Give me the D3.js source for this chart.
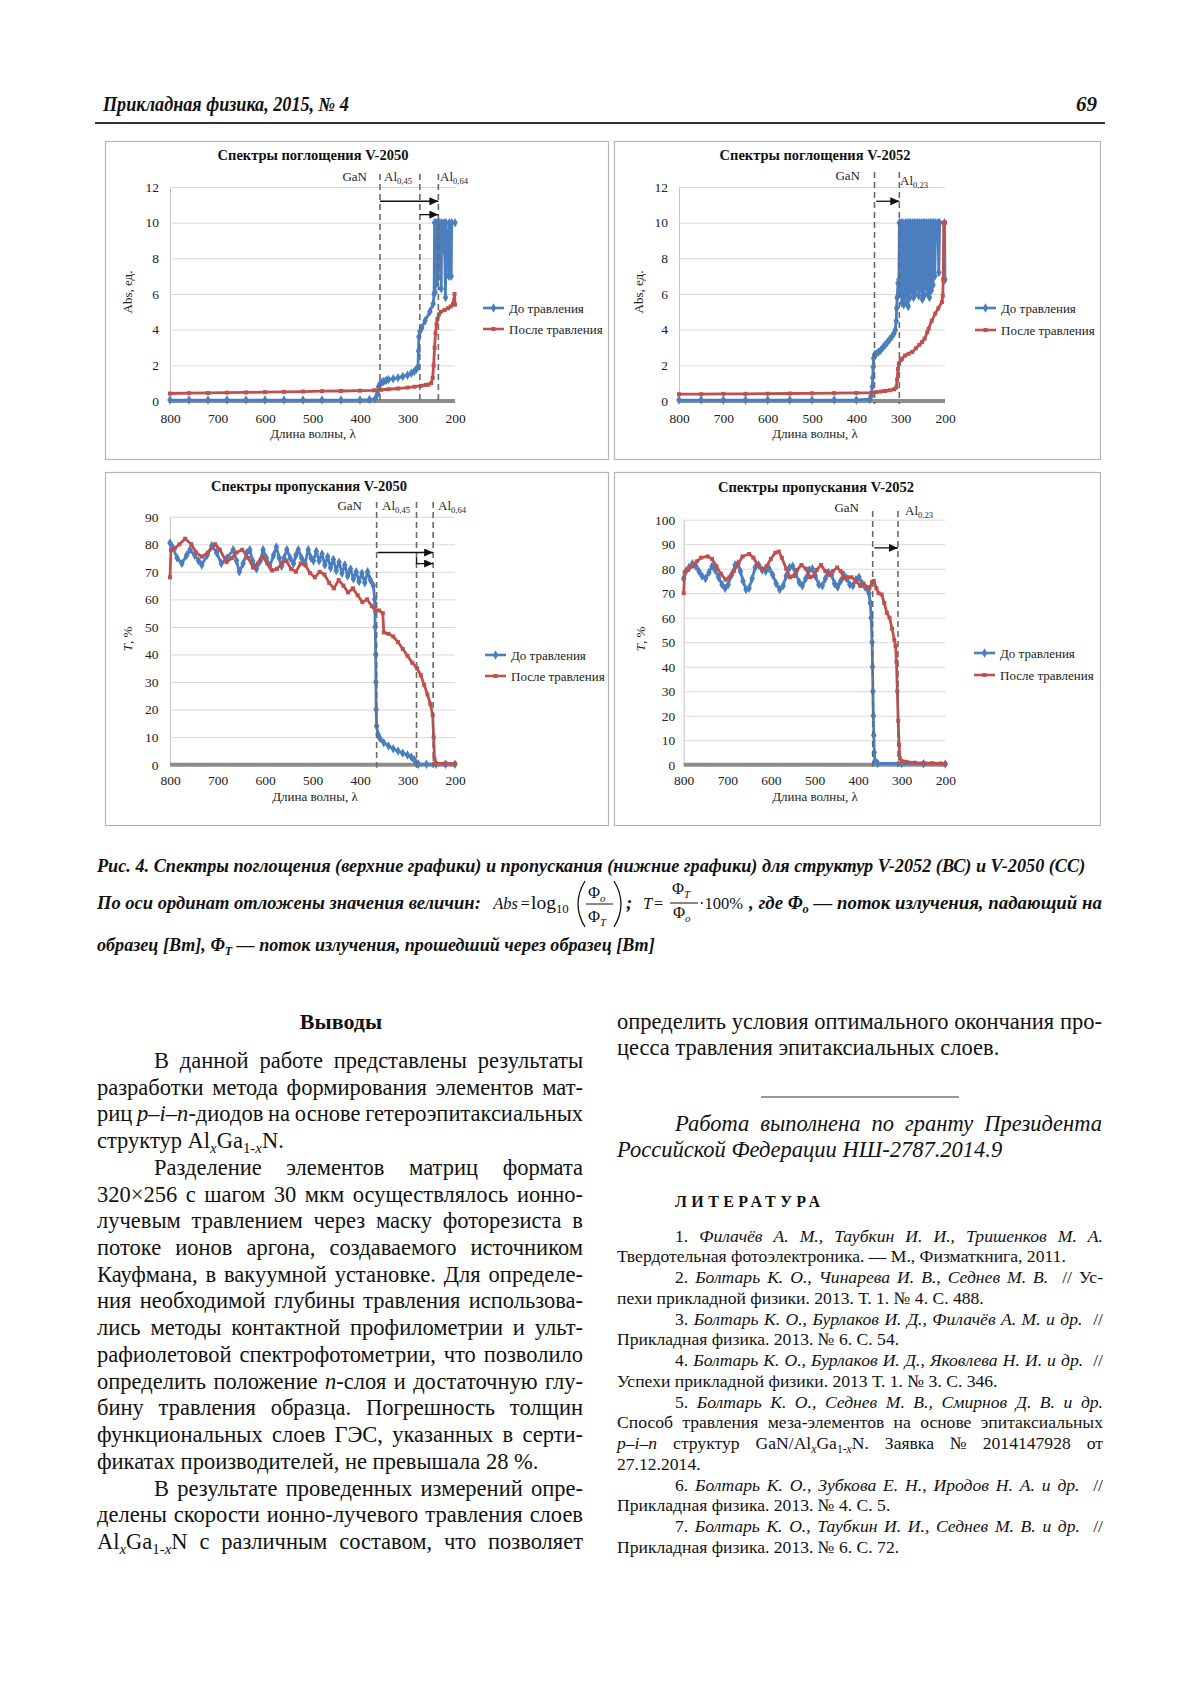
<!DOCTYPE html>
<html><head><meta charset="utf-8">
<script src="https://cdn.jsdelivr.net/npm/d3@7"></script>
<style>
body{margin:0;background:#fff;}
svg text{white-space:pre;}
</style></head>
<body>
<svg id="fig" width="1200" height="1698"></svg>
<script>
// ---------------- DATA ----------------
const wavelengthTicks = [800, 700, 600, 500, 400, 300, 200];
const absTicks = [0, 2, 4, 6, 8, 10, 12];
const tr2050Ticks = [0, 10, 20, 30, 40, 50, 60, 70, 80, 90];
const tr2052Ticks = [0, 10, 20, 30, 40, 50, 60, 70, 80, 90, 100];
const seriesNames = ["До травления", "После травления"];

// Absorption V-2050 [wavelength, Abs]
const abs2050Before = [[800,0.05],[760,0.05],[720,0.05],[680,0.05],[640,0.05],[600,0.05],[560,0.05],[520,0.05],[480,0.05],[440,0.05],[400,0.06],[380,0.08],[368,0.12],[363,0.4],[361,0.8],[358,0.95],[354,1.05],[350,1.1],[345,1.15],[340,1.2],[330,1.25],[320,1.3],[310,1.38],[300,1.45],[292,1.55],[286,1.65],[282,1.75],[278,1.9],[277,2.8],[276,3.6],[274,3.9],[270,4.1],[263,4.5],[253,5.0],[246,5.45],[244,6.0],[243,10],[242,6.1],[241,10],[239,6.6],[238,10],[236,6.9],[235,10],[233,7.5],[232,10],[229,6.3],[228,10],[224,8.5],[223,10],[220,5.8],[219,10],[213,7.0],[212,10],[208,7.0],[207,10],[200,10]];
const abs2050After = [[800,0.42],[760,0.44],[720,0.45],[680,0.47],[640,0.48],[600,0.5],[560,0.51],[520,0.53],[480,0.55],[440,0.56],[400,0.58],[370,0.6],[355,0.63],[340,0.66],[320,0.7],[300,0.75],[285,0.8],[272,0.85],[262,0.9],[256,0.92],[250,1.0],[247,1.3],[245,2.0],[243,3.0],[241,3.8],[239,4.3],[237,4.6],[234,4.85],[230,5.0],[222,5.1],[215,5.2],[209,5.3],[204,5.45],[201,6.0],[200,5.4]];

// Absorption V-2052
const abs2052Before = [[800,0.05],[750,0.05],[700,0.05],[650,0.05],[600,0.05],[550,0.05],[500,0.05],[450,0.05],[400,0.06],[370,0.1],[366,0.3],[364,0.8],[363,1.3],[362,1.9],[361,2.4],[359,2.6],[355,2.65],[350,2.75],[345,2.85],[340,3.0],[335,3.15],[330,3.3],[325,3.45],[320,3.6],[315,3.8],[312,4.0],[310,4.5],[309,5.2],[308,5.8],[306,6.6],[304,6.8],[303,10],[301,6.0],[299,10],[297,5.5],[295,10],[293,5.4],[291,5.8],[289,10],[287,5.6],[285,10],[283,5.3],[281,10],[279,5.8],[277,10],[275,6.2],[273,10],[271,5.8],[269,10],[267,6.0],[265,10],[263,6.4],[261,10],[259,5.9],[257,10],[255,6.3],[253,10],[251,5.7],[249,10],[247,5.9],[245,10],[243,6.4],[241,10],[239,6.0],[237,10],[235,5.8],[233,10],[231,6.2],[229,10],[227,6.5],[225,10],[223,7.0],[221,10],[216,10],[214,7.2],[212,10],[201,10],[200,6.8]];
const abs2052After = [[800,0.38],[750,0.38],[700,0.4],[650,0.4],[600,0.41],[550,0.42],[500,0.43],[450,0.44],[400,0.45],[366,0.46],[355,0.5],[345,0.53],[335,0.56],[325,0.6],[315,0.65],[310,0.75],[308,1.2],[306,1.8],[304,2.1],[300,2.3],[297,2.37],[290,2.55],[282,2.65],[274,2.75],[266,2.95],[258,3.15],[252,3.3],[246,3.5],[240,3.85],[237,4.05],[230,4.5],[222,4.9],[215,5.2],[207,5.55],[205,5.9],[204,6.8],[203,10],[200,10]];

// Transmission V-2050 [wavelength, T%]
const tr2050Before = [[800,80.5],[795,79],[785,75],[775,73],[765,76],[758,78],[748,76],[740,74],[733,72.5],[722,76],[712,79.5],[702,77],[692,73],[680,75],[667,78],[660,74],[654,70],[646,73],[638,77],[632,78],[626,74],[618,71],[610,74],[604,78],[597,75],[590,72],[582,76],[576,79],[570,75],[565,72],[560,75],[554,78],[547,75],[540,73],[535,76],[530,78],[523,75],[516,73],[509,78],[503,75],[498,74],[492,77.5],[486,74],[480,76.5],[474,72.5],[468,75.5],[462,71.5],[456,74.5],[450,70.5],[444,73.5],[438,69.5],[432,72.5],[426,68.5],[420,71],[414,67.5],[408,70],[402,66.5],[396,69.5],[390,66],[384,70],[378,67],[372,65],[369,60],[368,50],[367,40],[366.5,30],[366,20],[365,14],[362,11],[358,9.5],[350,8],[340,6.8],[330,5.8],[320,5],[310,4.2],[300,3.5],[292,2.8],[286,1.8],[281,0.5],[277,0.2],[260,0.2],[240,0.2],[220,0.2],[200,0.2]];
const tr2050After = [[800,68],[798,78],[790,78.5],[780,80],[768,82],[755,80],[745,77],[733,75.5],[720,77],[705,80],[695,78],[681,73.5],[670,75],[660,77],[648,78],[635,75],[625,71.5],[615,73],[605,75.5],[595,73],[585,70.5],[575,71],[565,73],[555,74],[545,71],[535,70],[525,73],[515,72.5],[505,69.5],[495,68],[485,70],[475,69],[465,66],[455,64],[445,67],[435,65],[425,62.5],[415,64],[405,61.5],[395,59],[385,60],[375,57.5],[368,56],[360,56],[352,55],[350,48],[340,47.5],[330,46.5],[320,44.5],[310,42],[300,39.5],[290,37],[280,35],[272,32.5],[265,29],[258,25.5],[252,22],[247,18],[245,10],[243,2],[240,0.5],[220,0.5],[200,0.3]];

// Transmission V-2052
const tr2052Before = [[800,76],[795,79],[788,80.5],[780,82],[772,81],[765,79],[758,77],[750,76],[742,78.5],[735,81],[728,79.5],[720,76.5],[712,73.5],[705,72],[698,73.5],[690,77.5],[682,81.5],[676,82],[670,79],[664,75],[657,71.5],[650,72],[643,76],[636,80.5],[628,81.5],[620,79.5],[612,79],[604,80],[596,77.5],[588,74],[580,71.5],[572,73],[565,77],[557,80.5],[550,81],[543,78],[535,74.5],[528,73],[520,76],[512,79.5],[505,80],[498,77],[490,73.5],[482,73],[475,76],[468,78.5],[461,77.5],[454,74],[447,72.5],[440,75],[433,77.5],[426,76],[419,73.5],[412,73],[405,75.5],[398,76.5],[391,74],[384,72.5],[378,71.5],[375,70],[372,66],[370,60],[368,50],[367,40],[366,30],[365,20],[364,12],[363,5],[361,1.5],[355,0.5],[300,0.5],[250,0.4],[200,0.3]];
const tr2052After = [[800,70],[798,78.5],[790,79.5],[780,81],[770,83],[760,84.5],[745,85],[735,84],[725,81],[715,78],[704,75.5],[695,76.5],[685,79],[675,82],[665,85],[650,86],[640,84.5],[630,81.5],[620,79.5],[610,81],[600,84],[590,86.5],[582,87],[575,84.5],[565,80],[556,76.5],[548,77],[540,79.5],[530,81.5],[520,80],[510,76.5],[502,77],[495,79.5],[485,81.5],[475,79],[467,77.5],[458,79],[448,80.5],[440,79],[432,76],[424,76.5],[415,76.5],[405,75],[395,73],[388,74],[380,72.5],[374,72],[368,74.5],[364,75],[358,72],[353,70],[346,69.5],[340,66],[334,62],[328,60],[322,55.5],[317,51],[314,48.5],[312,42],[310,30],[308,18],[306,8],[304,2.5],[300,1.5],[290,1.2],[270,0.8],[250,0.7],[230,0.6],[210,0.5],[200,0.3]];

// ---------------- DRAWING ----------------
const FONT = "'Liberation Serif', 'Times New Roman', serif";
const svg = d3.select("#fig");
svg.append("rect").attr("width", 1200).attr("height", 1698).attr("fill", "#fff");
const colors = ["#4a7ebf", "#c0504d"];
const symbols = [d3.symbol().type(d3.symbolDiamond).size(26)(), d3.symbol().type(d3.symbolSquare).size(16)()];

const defs = svg.append("defs");
defs.append("marker").attr("id", "arr").attr("markerUnits", "userSpaceOnUse")
  .attr("markerWidth", 9).attr("markerHeight", 8).attr("refX", 9).attr("refY", 4).attr("orient", "auto")
  .append("path").attr("d", "M0,0 L9,4 L0,8 Z").attr("fill", "#111");

function rich(parent, x, y, markup, o) {
  o = o || {};
  const size = o.size || 16;
  const t = parent.append("text").attr("x", x).attr("y", y)
    .attr("font-family", FONT).attr("font-size", size).attr("fill", o.fill || "#111");
  if (o.anchor) t.attr("text-anchor", o.anchor);
  if (o.transform) t.attr("transform", o.transform);
  if (o.ls) t.attr("letter-spacing", o.ls);
  const baseIt = o.style === "italic", baseBd = o.weight === "bold";
  let it = baseIt, bd = baseBd, sub = 0, cur = 0;
  markup.split(/(<\/?(?:i|b|sub|n)>)/).forEach(p => {
    if (!p) return;
    if (p === "<i>") { it = true; return; }
    if (p === "</i>") { it = baseIt; return; }
    if (p === "<n>") { it = false; return; }
    if (p === "</n>") { it = baseIt; return; }
    if (p === "<b>") { bd = true; return; }
    if (p === "</b>") { bd = baseBd; return; }
    if (p === "<sub>") { sub++; return; }
    if (p === "</sub>") { sub--; return; }
    const shift = sub ? size * 0.22 : 0;
    const ts = t.append("tspan").text(p)
      .attr("font-style", it ? "italic" : "normal")
      .attr("font-weight", bd ? "bold" : "normal");
    if (sub) ts.attr("font-size", size * 0.66);
    if (shift !== cur) { ts.attr("dy", shift - cur); cur = shift; }
  });
  if (o.width) {
    const nat = t.node().getComputedTextLength();
    if (o.fit === "scale") {
      t.attr("x", 0).attr("y", 0)
        .attr("transform", `translate(${x},${y}) scale(${o.width / nat},1)`);
    } else if (o.fit) {
      t.attr("textLength", o.width).attr("lengthAdjust", o.fit);
    } else {
      const n = (markup.replace(/<[^>]+>/g, "").match(/ /g) || []).length;
      if (n) t.style("word-spacing", ((o.width - nat) / n) + "px");
    }
  }
  return t;
}

const charts = [
  { frame: [105, 141, 503, 318], x0: 170, x1: 455, yTop: 187, yBot: 401, yMax: 12, ticks: absTicks, pad: 11, xpad: 12,
    title: "Спектры поглощения V-2050", tx: 313, ty: 160, yLabel: "Abs, ед.", ylx: 132, yly: 292, xlx: 313, xly: 438,
    series: [abs2050Before, abs2050After], dashed: [358, 274, 235], dashTop: 174,
    labels: [["GaN", 367, 181, "end"], ["Al<sub>0,45</sub>", 384, 181], ["Al<sub>0,64</sub>", 440, 181]],
    arrows: [[[358, 11.2], [235, 11.2]], [[274, 10.45], [235, 10.45]]], legend: [483, 308, 21] },
  { frame: [614, 141, 486, 318], x0: 679, x1: 945, yTop: 187, yBot: 401, yMax: 12, ticks: absTicks, pad: 11, xpad: 12,
    title: "Спектры поглощения V-2052", tx: 815, ty: 160, yLabel: "Abs, ед.", ylx: 643, yly: 292, xlx: 815, xly: 438,
    series: [abs2052Before, abs2052After], dashed: [359, 303], dashTop: 172,
    labels: [["GaN", 860, 180, "end"], ["Al<sub>0,23</sub>", 900, 185]],
    arrows: [[[355, 11.2], [303, 11.2]]], legend: [975, 308, 22] },
  { frame: [105, 472, 503, 353], x0: 170, x1: 455, yTop: 516.7, yBot: 764.7, yMax: 90, ticks: tr2050Ticks, pad: 11.5, xpad: 10.5,
    title: "Спектры пропускания V-2050", tx: 309, ty: 491, yLabel: "<i>T</i>, %", ylx: 132, yly: 639, xlx: 315, xly: 801,
    series: [tr2050Before, tr2050After], dashed: [365, 281, 246], dashTop: 502,
    labels: [["GaN", 362, 510, "end"], ["Al<sub>0,45</sub>", 382, 510], ["Al<sub>0,64</sub>", 438, 510]],
    arrows: [[[363, 77], [246, 77]], [[281, 75.2], [281, 73], [246, 73]]], legend: [485, 655, 21] },
  { frame: [614, 472, 486, 353], x0: 683.7, x1: 945.3, yTop: 519.7, yBot: 764.7, yMax: 100, ticks: tr2052Ticks, pad: 8.5, xpad: 10.5,
    title: "Спектры пропускания V-2052", tx: 816, ty: 492, yLabel: "<i>T</i>, %", ylx: 645, yly: 639, xlx: 815, xly: 801,
    series: [tr2052Before, tr2052After], dashed: [366.5, 308.5], dashTop: 511,
    labels: [["GaN", 859, 512, "end"], ["Al<sub>0,23</sub>", 905, 515]],
    arrows: [[[363, 88.5], [308.5, 88.5]]], legend: [974, 653, 22] }
];

function drawChart(c) {
  const g = svg.append("g");
  g.append("rect").attr("x", c.frame[0] + 0.5).attr("y", c.frame[1] + 0.5)
    .attr("width", c.frame[2]).attr("height", c.frame[3])
    .attr("fill", "#fff").attr("stroke", "#b5b5b5").attr("stroke-width", 1.2);
  const x = d3.scaleLinear().domain([800, 200]).range([c.x0, c.x1]);
  const y = d3.scaleLinear().domain([0, c.yMax]).range([c.yBot, c.yTop]);

  const ya = g.append("g").attr("transform", `translate(${c.x0},0)`)
    .call(d3.axisLeft(y).tickValues(c.ticks).tickSize(-(c.x1 - c.x0)).tickSizeOuter(0).tickPadding(c.pad).tickFormat(d3.format("d")));
  ya.attr("font-family", FONT).attr("font-size", 13.5);
  ya.select(".domain").attr("stroke", "#c2c2c2");
  ya.selectAll(".tick line").attr("stroke", "#d9d9d9");
  ya.selectAll(".tick text").attr("fill", "#222");

  const xa = g.append("g").attr("transform", `translate(0,${c.yBot})`)
    .call(d3.axisBottom(x).tickValues(wavelengthTicks).tickSize(0).tickPadding(c.xpad).tickFormat(d3.format("d")));
  xa.attr("font-family", FONT).attr("font-size", 13.5);
  xa.select(".domain").remove();
  xa.selectAll(".tick text").attr("fill", "#222");

  g.append("line").attr("x1", x(800)).attr("x2", x(200)).attr("y1", y(0)).attr("y2", y(0))
    .attr("stroke", "#8d8d8d").attr("stroke-width", 4);

  const line = d3.line().x(d => x(d[0])).y(d => y(d[1]));
  c.series.forEach((s, i) => {
    g.append("path").datum(s).attr("d", line).attr("fill", "none")
      .attr("stroke", colors[i]).attr("stroke-width", 2.8).attr("stroke-linejoin", "round");
    g.append("g").selectAll("path").data(s).join("path")
      .attr("transform", d => `translate(${x(d[0])},${y(d[1])})`)
      .attr("d", symbols[i]).attr("fill", colors[i]);
  });

  c.dashed.forEach(w => g.append("line").attr("x1", x(w)).attr("x2", x(w))
    .attr("y1", c.dashTop).attr("y2", y(0) + 3)
    .attr("stroke", "#6a6a6a").attr("stroke-width", 1.6).attr("stroke-dasharray", "6,4"));

  c.labels.forEach(l => rich(g, l[1], l[2], l[0], { size: 13, anchor: l[3] || "start", fill: "#222" }));

  const aLine = d3.line().x(d => x(d[0])).y(d => y(d[1]));
  c.arrows.forEach(a => g.append("path").datum(a).attr("d", aLine).attr("fill", "none")
    .attr("stroke", "#111").attr("stroke-width", 1.3).attr("marker-end", "url(#arr)"));

  rich(g, c.tx, c.ty, c.title, { size: 14.5, weight: "bold", anchor: "middle", fill: "#111" });
  rich(g, c.xlx, c.xly, "Длина волны, λ", { size: 13, anchor: "middle", fill: "#222" });
  rich(g, 0, 0, c.yLabel, { size: 13, anchor: "middle", fill: "#222",
    transform: `translate(${c.ylx},${c.yly}) rotate(-90)` });

  const [lx, ly, gap] = c.legend;
  seriesNames.forEach((nm, i) => {
    const yy = ly + i * gap;
    g.append("line").attr("x1", lx).attr("x2", lx + 21).attr("y1", yy).attr("y2", yy)
      .attr("stroke", colors[i]).attr("stroke-width", 2.6);
    g.append("path").attr("transform", `translate(${lx + 10.5},${yy})`).attr("d", symbols[i]).attr("fill", colors[i]);
    rich(g, lx + 26, yy + 4.5, nm, { size: 13, fill: "#222" });
  });
}
charts.forEach(drawChart);

// ---------------- PAGE TEXT ----------------
const T = svg.append("g");
rich(T, 103, 111, "Прикладная физика, 2015, № 4", { size: 20, weight: "bold", style: "italic", width: 246, fit: "scale" });
rich(T, 1097, 111, "69", { size: 21, weight: "bold", style: "italic", anchor: "end" });
T.append("line").attr("x1", 95).attr("x2", 1105).attr("y1", 123).attr("y2", 123).attr("stroke", "#333").attr("stroke-width", 1.8);

// caption
rich(T, 97, 872, "Рис. 4. Спектры поглощения (верхние графики) и пропускания (нижние графики) для структур V-2052 (ВС) и V-2050 (СС)",
  { size: 19.5, weight: "bold", style: "italic", width: 989, fit: "scale" });
rich(T, 97, 909, "По оси ординат отложены значения величин:", { size: 19.5, weight: "bold", style: "italic", width: 384, fit: "scale" });
rich(T, 518, 909, "<i>Abs</i>", { size: 16.5, anchor: "end" });
rich(T, 520.5, 909, "=", { size: 16.5 });
rich(T, 531, 909, "log<sub>10</sub>", { size: 19.5 });
T.append("path").attr("d", "M585,881 Q571,904 585,927").attr("fill", "none").attr("stroke", "#111").attr("stroke-width", 1.3);
T.append("path").attr("d", "M614,881 Q628,904 614,927").attr("fill", "none").attr("stroke", "#111").attr("stroke-width", 1.3);
rich(T, 588, 898, "Φ<sub><i>o</i></sub>", { size: 16.5 });
T.append("line").attr("x1", 586).attr("x2", 613).attr("y1", 904).attr("y2", 904).attr("stroke", "#111").attr("stroke-width", 1);
rich(T, 588, 922, "Φ<sub><i>T</i></sub>", { size: 16.5 });
rich(T, 626, 909, ";", { size: 19, weight: "bold", style: "italic" });
rich(T, 643, 909, "<i>T</i>", { size: 16.5 });
rich(T, 654, 909, "=", { size: 16.5 });
rich(T, 672, 894, "Φ<sub><i>T</i></sub>", { size: 16.5 });
T.append("line").attr("x1", 670).attr("x2", 698).attr("y1", 903).attr("y2", 903).attr("stroke", "#111").attr("stroke-width", 1);
rich(T, 673, 918, "Φ<sub><i>o</i></sub>", { size: 16.5 });
rich(T, 699, 909, "·100%", { size: 16.5 });
rich(T, 749, 909, ", где Φ<sub>o</sub> — поток излучения, падающий на", { size: 19.5, weight: "bold", style: "italic", width: 353, fit: "scale" });
rich(T, 97, 951, "образец [Вт], Φ<sub>T</sub> — поток излучения, прошедший через образец [Вт]", { size: 19.5, weight: "bold", style: "italic", width: 558, fit: "scale" });

// body column 1
const BODY = 22.5, LH = 26.72;
rich(T, 341, 1029, "Выводы", { size: 22, weight: "bold", anchor: "middle" });
const col1 = [
  [154, "В данной работе представлены результаты", true],
  [97, "разработки метода формирования элементов мат-", true],
  [97, "риц <i>p–i–n</i>-диодов на основе гетероэпитаксиальных", true],
  [97, "структур Al<sub><i>x</i></sub>Ga<sub>1-<i>x</i></sub>N.", false],
  [154, "Разделение элементов матриц формата", true],
  [97, "320×256 с шагом 30 мкм осуществлялось ионно-", true],
  [97, "лучевым травлением через маску фоторезиста в", true],
  [97, "потоке ионов аргона, создаваемого источником", true],
  [97, "Кауфмана, в вакуумной установке. Для определе-", true],
  [97, "ния необходимой глубины травления использова-", true],
  [97, "лись методы контактной профилометрии и ульт-", true],
  [97, "рафиолетовой спектрофотометрии, что позволило", true],
  [97, "определить положение <i>n</i>-слоя и достаточную глу-", true],
  [97, "бину травления образца. Погрешность толщин", true],
  [97, "функциональных слоев ГЭС, указанных в серти-", true],
  [97, "фикатах производителей, не превышала 28 %.", false],
  [154, "В результате проведенных измерений опре-", true],
  [97, "делены скорости ионно-лучевого травления слоев", true],
  [97, "Al<sub><i>x</i></sub>Ga<sub>1-<i>x</i></sub>N с различным составом, что позволяет", true]
];
col1.forEach((l, i) => rich(T, l[0], 1068 + i * LH, l[1], { size: BODY, width: l[2] ? 583 - l[0] : null }));

// body column 2
rich(T, 617, 1029, "определить условия оптимального окончания про-", { size: BODY, width: 485 });
rich(T, 617, 1055, "цесса травления эпитаксиальных слоев.", { size: BODY });
T.append("line").attr("x1", 761).attr("x2", 959).attr("y1", 1097).attr("y2", 1097).attr("stroke", "#333").attr("stroke-width", 1.1);
rich(T, 675, 1131, "Работа выполнена по гранту Президента", { size: BODY, style: "italic", width: 427 });
rich(T, 617, 1157, "Российской Федерации НШ-2787.2014.9", { size: BODY, style: "italic" });
rich(T, 675, 1207, "ЛИТЕРАТУРА", { size: 16, weight: "bold", width: 145, fit: "spacing" });

const REF = 17.6, RLH = 20.74;
const refs = [
  [675, "1. <i>Филачёв А. М., Таубкин И. И., Тришенков М. А.</i>", true],
  [617, "Твердотельная фотоэлектроника. — М., Физматкнига, 2011.", false],
  [675, "2. <i>Болтарь К. О., Чинарева И. В., Седнев М. В.</i>  // Ус-", true],
  [617, "пехи прикладной физики. 2013. Т. 1. № 4. С. 488.", false],
  [675, "3. <i>Болтарь К. О., Бурлаков И. Д., Филачёв А. М. и др.</i>  //", true],
  [617, "Прикладная физика. 2013. № 6. С. 54.", false],
  [675, "4. <i>Болтарь К. О., Бурлаков И. Д., Яковлева Н. И. и др.</i>  //", true],
  [617, "Успехи прикладной физики. 2013 Т. 1. № 3. С. 346.", false],
  [675, "5. <i>Болтарь К. О., Седнев М. В., Смирнов Д. В. и др.</i>", true],
  [617, "Способ травления меза-элементов на основе эпитаксиальных", true],
  [617, "<i>p–i–n</i> структур GaN/Al<sub><i>x</i></sub>Ga<sub>1-<i>x</i></sub>N. Заявка № 2014147928 от", true],
  [617, "27.12.2014.", false],
  [675, "6. <i>Болтарь К. О., Зубкова Е. Н., Иродов Н. А. и др.</i>  //", true],
  [617, "Прикладная физика. 2013. № 4. С. 5.", false],
  [675, "7. <i>Болтарь К. О., Таубкин И. И., Седнев М. В. и др.</i>  //", true],
  [617, "Прикладная физика. 2013. № 6. С. 72.", false]
];
refs.forEach((l, i) => rich(T, l[0], 1241.7 + i * RLH, l[1], { size: REF, width: l[2] ? 1103 - l[0] : null }));
</script>
</body></html>
